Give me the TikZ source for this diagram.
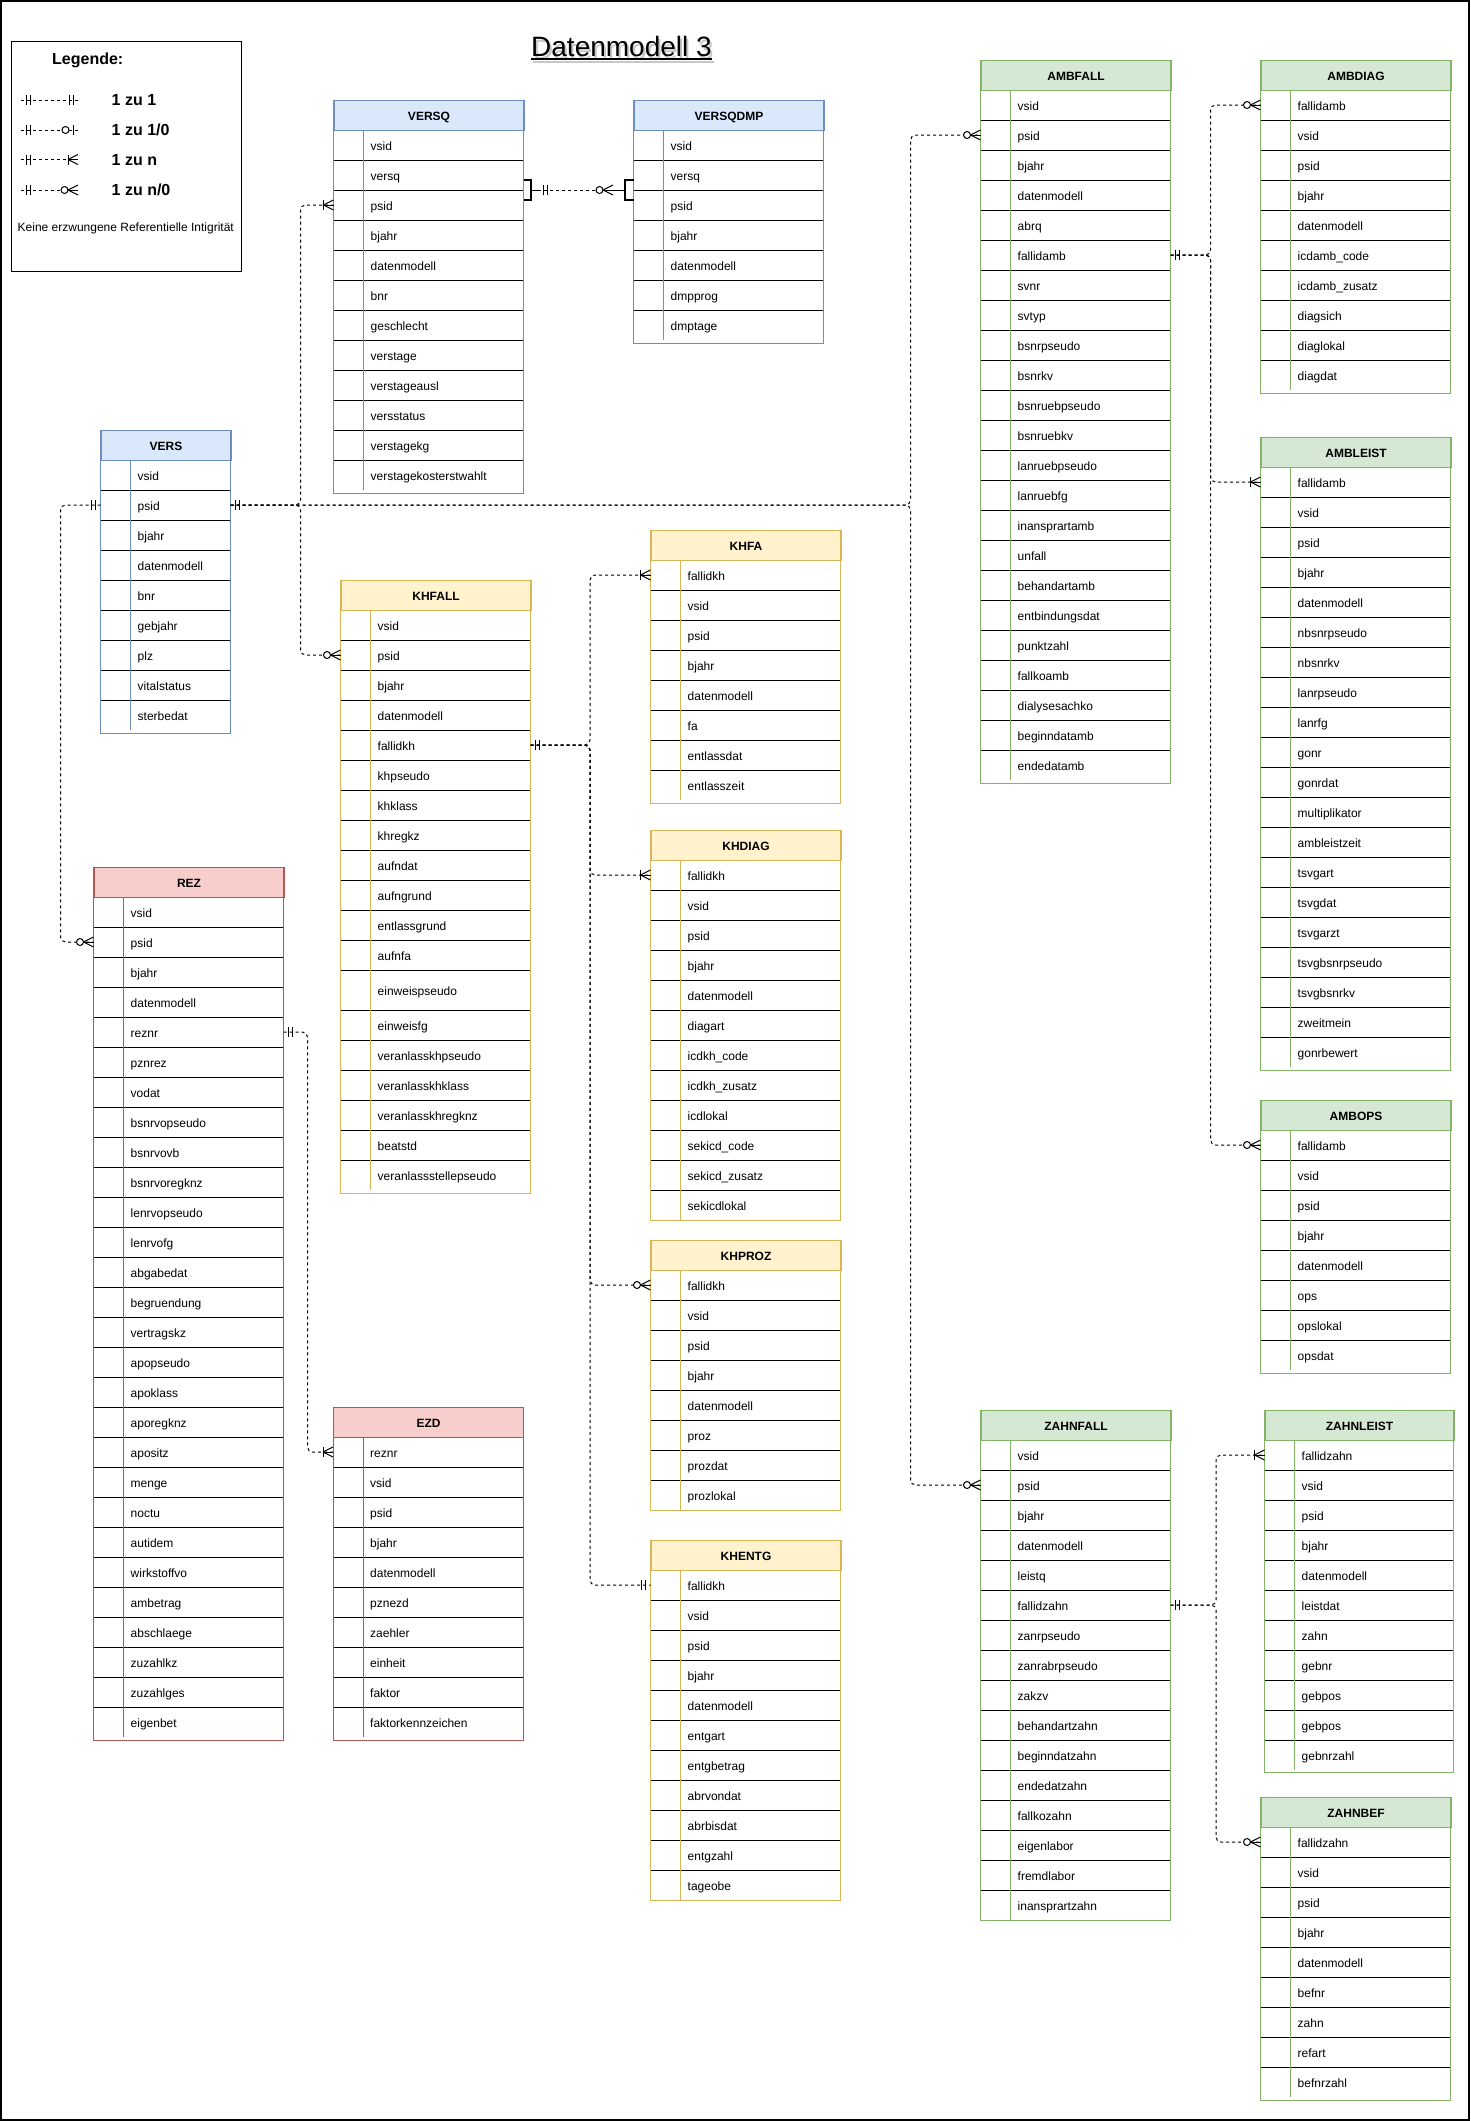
\documentclass[tikz,border=0pt]{standalone}
\usepackage{fontspec}
\setmainfont{Liberation Sans}
\usetikzlibrary{calc}
\definecolor{bluefill}{HTML}{DAE8FC}
\definecolor{blueborder}{HTML}{6C8EBF}
\definecolor{yellowfill}{HTML}{FFF2CC}
\definecolor{yellowborder}{HTML}{D6B656}
\definecolor{redfill}{HTML}{F8CECC}
\definecolor{redborder}{HTML}{B85450}
\definecolor{greenfill}{HTML}{D5E8D4}
\definecolor{greenborder}{HTML}{82B366}
\tikzset{
  hdr/.style={inner sep=0pt, minimum height=30pt, line width=1pt, font=\fontsize{12}{14}\selectfont\bfseries, text height=10pt, text depth=0pt},
  rowbox/.style={inner sep=0pt, outer sep=0pt},
  fieldtxt/.style={inner sep=0pt, anchor=west, font=\fontsize{12}{14}\selectfont, text height=11pt, text depth=1pt},
  rowsep/.style={line width=1pt, black},
  conn/.style={line width=1pt, dash pattern=on 3pt off 3pt, rounded corners=5pt},
  mk/.style={line width=1pt, solid},
  lgl/.style={inner sep=0pt, anchor=base west, font=\fontsize{16}{19}\selectfont\bfseries},
}
\def\tallname{einweispseudo}
% #1 name, #2 x, #3 y, #4 width, #5 colour scheme, #6 fields, #7 bottom padding
\newcommand\ertable[7]{%
  \node[hdr, draw=#5border, fill=#5fill, minimum width=#4pt, anchor=north west] (#1) at (#2,#3) {#1};
  \xdef\cury{\fpeval{#3+30}}%
  \foreach \f [count=\i] in {#6}{%
    \edef\cur{\f}%
    \ifx\cur\tallname\def\rh{40}\else\def\rh{30}\fi
    \node[rowbox, minimum width=#4pt, minimum height=\rh pt, anchor=north west] (#1-\f) at (#2,\cury) {};
    \node[fieldtxt] (#1-\f-txt) at ([xshift=37pt]#1-\f.west) {\f};
    \ifnum\i>1 \draw[rowsep] (#1-\f.north west) -- (#1-\f.north east);\fi
    \xdef\cury{\fpeval{\cury+\rh}}%
  }%
  \draw[#5border, line width=0.8pt] (#2+30,#3+30) -- (#2+30,\cury);
  \draw[#5border, line width=1pt] (#2,#3) rectangle (#2+#4,\cury+#7);
}
% ER end marks: #1 point, #2 = +1 if the line runs to the right of the point, -1 if to the left
\newcommand\erOne[2]{%
  \draw[mk] ($(#1)+(#2*5,-5)$) -- ++(0,10);
  \draw[mk] ($(#1)+(#2*9,-5)$) -- ++(0,10);}
\newcommand\erCrow[2]{%
  \draw[mk] ($(#1)+(#2*10,0)$) -- ($(#1)+(0,-5)$);
  \draw[mk] ($(#1)+(#2*10,0)$) -- ($(#1)+(0,5)$);
  \draw[mk] ($(#1)+(#2*10,0)$) -- (#1);}
\newcommand\erMany[2]{%
  \erCrow{#1}{#2}%
  \draw[mk] ($(#1)+(#2*10,-5)$) -- ++(0,10);}
\newcommand\erZeroMany[2]{%
  \erCrow{#1}{#2}%
  \draw[mk, fill=white] ($(#1)+(#2*13.5,0)$) circle[radius=3.5pt];}
\newcommand\erZeroOne[2]{%
  \draw[mk] ($(#1)+(#2*5,-5)$) -- ++(0,10);
  \draw[mk, fill=white] ($(#1)+(#2*12.5,0)$) circle[radius=3.5pt];}
\catcode`\_=12
\begin{document}
\begin{tikzpicture}[x=1pt,y=-1pt]
\useasboundingbox (0,0) rectangle (1471,2121);
\draw[line width=2pt] (1,1) rectangle (1468.5,2119.5);

% title
\node[anchor=base west, inner sep=0pt, font=\fontsize{28}{32}\selectfont, text=black!22] (titleshadow) at (533,59.5) {Datenmodell 3};
\draw[black!22, line width=1.5pt] ([yshift=-2.5pt]titleshadow.base west) -- ([yshift=-2.5pt]titleshadow.base east);
\node[anchor=base west, inner sep=0pt, font=\fontsize{28}{32}\selectfont] (title) at (531,56.5) {Datenmodell 3};
\draw[line width=1.5pt] ([yshift=-2.5pt]title.base west) -- ([yshift=-2.5pt]title.base east);

% legend
\node[draw, line width=1pt, minimum width=230pt, minimum height=230pt, inner sep=0pt, anchor=north west] (legend) at (10.5,40.5) {};
\node[lgl] (legtitle) at (52,64.5) {Legende:};
\foreach \k/\yy in {1/100,2/130,3/159.5,4/190}{
  \coordinate (lg\k a) at (21,\yy);
  \coordinate (lg\k b) at (78,\yy);
  \draw[conn] (lg\k a) -- (lg\k b);
  \erOne{lg\k a}{1}
}
\erOne{lg1b}{-1}
\erZeroOne{lg2b}{-1}
\erMany{lg3b}{-1}
\erZeroMany{lg4b}{-1}
\node[lgl] (lab1) at (111.5,105.5) {1 zu 1};
\node[lgl] (lab2) at (111.5,135.5) {1 zu 1/0};
\node[lgl] (lab3) at (111.5,165) {1 zu n};
\node[lgl] (lab4) at (111.5,195.5) {1 zu n/0};
\node[inner sep=0pt, anchor=base west, font=\fontsize{12}{14}\selectfont] (legnote) at (17.5,231) {Keine erzwungene Referentielle Intigrität};

% tables
\ertable{VERSQ}{333.5}{100}{190}{blue}{vsid, versq, psid, bjahr, datenmodell, bnr, geschlecht, verstage, verstageausl, versstatus, verstagekg, verstagekosterstwahlt}{3}
\ertable{VERSQDMP}{633.5}{100}{190}{blue}{vsid, versq, psid, bjahr, datenmodell, dmpprog, dmptage}{3}
\ertable{VERS}{100.5}{430}{130}{blue}{vsid, psid, bjahr, datenmodell, bnr, gebjahr, plz, vitalstatus, sterbedat}{3}
\ertable{KHFALL}{340.5}{580}{190}{yellow}{vsid, psid, bjahr, datenmodell, fallidkh, khpseudo, khklass, khregkz, aufndat, aufngrund, entlassgrund, aufnfa, einweispseudo, einweisfg, veranlasskhpseudo, veranlasskhklass, veranlasskhregknz, beatstd, veranlassstellepseudo}{3}
\ertable{KHFA}{650.5}{530}{190}{yellow}{fallidkh, vsid, psid, bjahr, datenmodell, fa, entlassdat, entlasszeit}{3}
\ertable{KHDIAG}{650.5}{830}{190}{yellow}{fallidkh, vsid, psid, bjahr, datenmodell, diagart, icdkh_code, icdkh_zusatz, icdlokal, sekicd_code, sekicd_zusatz, sekicdlokal}{0}
\ertable{KHPROZ}{650.5}{1240}{190}{yellow}{fallidkh, vsid, psid, bjahr, datenmodell, proz, prozdat, prozlokal}{0}
\ertable{KHENTG}{650.5}{1540}{190}{yellow}{fallidkh, vsid, psid, bjahr, datenmodell, entgart, entgbetrag, abrvondat, abrbisdat, entgzahl, tageobe}{0}
\ertable{REZ}{93.5}{867}{190}{red}{vsid, psid, bjahr, datenmodell, reznr, pznrez, vodat, bsnrvopseudo, bsnrvovb, bsnrvoregknz, lenrvopseudo, lenrvofg, abgabedat, begruendung, vertragskz, apopseudo, apoklass, aporegknz, apositz, menge, noctu, autidem, wirkstoffvo, ambetrag, abschlaege, zuzahlkz, zuzahlges, eigenbet}{3}
\ertable{EZD}{333}{1407}{190}{red}{reznr, vsid, psid, bjahr, datenmodell, pznezd, zaehler, einheit, faktor, faktorkennzeichen}{3}
\ertable{AMBFALL}{980.5}{60}{190}{green}{vsid, psid, bjahr, datenmodell, abrq, fallidamb, svnr, svtyp, bsnrpseudo, bsnrkv, bsnruebpseudo, bsnruebkv, lanruebpseudo, lanruebfg, inansprartamb, unfall, behandartamb, entbindungsdat, punktzahl, fallkoamb, dialysesachko, beginndatamb, endedatamb}{3}
\ertable{AMBDIAG}{1260.5}{60}{190}{green}{fallidamb, vsid, psid, bjahr, datenmodell, icdamb_code, icdamb_zusatz, diagsich, diaglokal, diagdat}{3}
\ertable{AMBLEIST}{1260.5}{437}{190}{green}{fallidamb, vsid, psid, bjahr, datenmodell, nbsnrpseudo, nbsnrkv, lanrpseudo, lanrfg, gonr, gonrdat, multiplikator, ambleistzeit, tsvgart, tsvgdat, tsvgarzt, tsvgbsnrpseudo, tsvgbsnrkv, zweitmein, gonrbewert}{3}
\ertable{AMBOPS}{1260.5}{1100}{190}{green}{fallidamb, vsid, psid, bjahr, datenmodell, ops, opslokal, opsdat}{3}
\ertable{ZAHNFALL}{980.5}{1410}{190}{green}{vsid, psid, bjahr, datenmodell, leistq, fallidzahn, zanrpseudo, zanrabrpseudo, zakzv, behandartzahn, beginndatzahn, endedatzahn, fallkozahn, eigenlabor, fremdlabor, inansprartzahn}{0}
\ertable{ZAHNLEIST}{1264.5}{1410}{189}{green}{fallidzahn, vsid, psid, bjahr, datenmodell, leistdat, zahn, gebnr, gebpos, gebpos, gebnrzahl}{2}
\ertable{ZAHNBEF}{1260.5}{1797}{190}{green}{fallidzahn, vsid, psid, bjahr, datenmodell, befnr, zahn, refart, befnrzahl}{3}

% bus coordinates
\coordinate (busV) at (300.5,0);
\coordinate (busR) at (60.5,0);
\coordinate (busE) at (307.5,0);
\coordinate (busK) at (590,0);
\coordinate (busA) at (910.5,0);
\coordinate (busF) at (1210.5,0);
\coordinate (busZ) at (1216,0);

% VERS.psid relations
\draw[conn] (VERS-psid.east) -| (busV |- VERSQ-psid.west) -- (VERSQ-psid.west);
\draw[conn] (VERS-psid.east) -| (busV |- KHFALL-psid.west) -- (KHFALL-psid.west);
\draw[conn] (VERS-psid.east) -| (busA |- AMBFALL-psid.west) -- (AMBFALL-psid.west);
\draw[conn] (VERS-psid.east) -| (busA |- ZAHNFALL-psid.west) -- (ZAHNFALL-psid.west);
\draw[conn] (VERS-psid.west) -| (busR |- REZ-psid.west) -- (REZ-psid.west);
\erOne{VERS-psid.east}{1}
\erOne{VERS-psid.west}{-1}
\erMany{VERSQ-psid.west}{-1}
\erZeroMany{KHFALL-psid.west}{-1}
\erZeroMany{AMBFALL-psid.west}{-1}
\erZeroMany{ZAHNFALL-psid.west}{-1}
\erZeroMany{REZ-psid.west}{-1}

% REZ -> EZD
\draw[conn] (REZ-reznr.east) -| (busE |- EZD-reznr.west) -- (EZD-reznr.west);
\erOne{REZ-reznr.east}{1}
\erMany{EZD-reznr.west}{-1}

% KHFALL.fallidkh relations
\draw[conn] (KHFALL-fallidkh.east) -| (busK |- KHFA-fallidkh.west) -- (KHFA-fallidkh.west);
\draw[conn] (KHFALL-fallidkh.east) -| (busK |- KHDIAG-fallidkh.west) -- (KHDIAG-fallidkh.west);
\draw[conn] (KHFALL-fallidkh.east) -| (busK |- KHPROZ-fallidkh.west) -- (KHPROZ-fallidkh.west);
\draw[conn] (KHFALL-fallidkh.east) -| (busK |- KHENTG-fallidkh.west) -- (KHENTG-fallidkh.west);
\erOne{KHFALL-fallidkh.east}{1}
\erMany{KHFA-fallidkh.west}{-1}
\erMany{KHDIAG-fallidkh.west}{-1}
\erZeroMany{KHPROZ-fallidkh.west}{-1}
\erOne{KHENTG-fallidkh.west}{-1}

% AMBFALL.fallidamb relations
\draw[conn] (AMBFALL-fallidamb.east) -| (busF |- AMBDIAG-fallidamb.west) -- (AMBDIAG-fallidamb.west);
\draw[conn] (AMBFALL-fallidamb.east) -| (busF |- AMBLEIST-fallidamb.west) -- (AMBLEIST-fallidamb.west);
\draw[conn] (AMBFALL-fallidamb.east) -| (busF |- AMBOPS-fallidamb.west) -- (AMBOPS-fallidamb.west);
\erOne{AMBFALL-fallidamb.east}{1}
\erZeroMany{AMBDIAG-fallidamb.west}{-1}
\erMany{AMBLEIST-fallidamb.west}{-1}
\erZeroMany{AMBOPS-fallidamb.west}{-1}

% ZAHNFALL.fallidzahn relations
\draw[conn] (ZAHNFALL-fallidzahn.east) -| (busZ |- ZAHNLEIST-fallidzahn.west) -- (ZAHNLEIST-fallidzahn.west);
\draw[conn] (ZAHNFALL-fallidzahn.east) -| (busZ |- ZAHNBEF-fallidzahn.west) -- (ZAHNBEF-fallidzahn.west);
\erOne{ZAHNFALL-fallidzahn.east}{1}
\erMany{ZAHNLEIST-fallidzahn.west}{-1}
\erZeroMany{ZAHNBEF-fallidzahn.west}{-1}

% VERSQ (versq, psid) -> VERSQDMP (versq, psid)
\coordinate (bqL) at (VERSQ-versq.south east);
\coordinate (bqR) at (VERSQDMP-versq.south west);
\coordinate (vqa) at ($(bqL)+(14.5,0)$);
\coordinate (vqb) at ($(bqR)+(-20.5,0)$);
\draw[line width=2pt] ($(bqL)+(0,-10)$) -- ++(7.5,0) -- ++(0,20) -- ++(-7.5,0);
\draw[line width=2pt] ($(bqR)+(0,-10)$) -- ++(-8.5,0) -- ++(0,20) -- ++(8.5,0);
\draw[mk] ($(bqL)+(7.5,0)$) -- (vqa);
\draw[mk] (vqb) -- ($(bqR)+(-8.5,0)$);
\draw[conn] (vqa) -- (vqb);
\erOne{vqa}{1}
\erZeroMany{vqb}{-1}
\end{tikzpicture}
\end{document}
